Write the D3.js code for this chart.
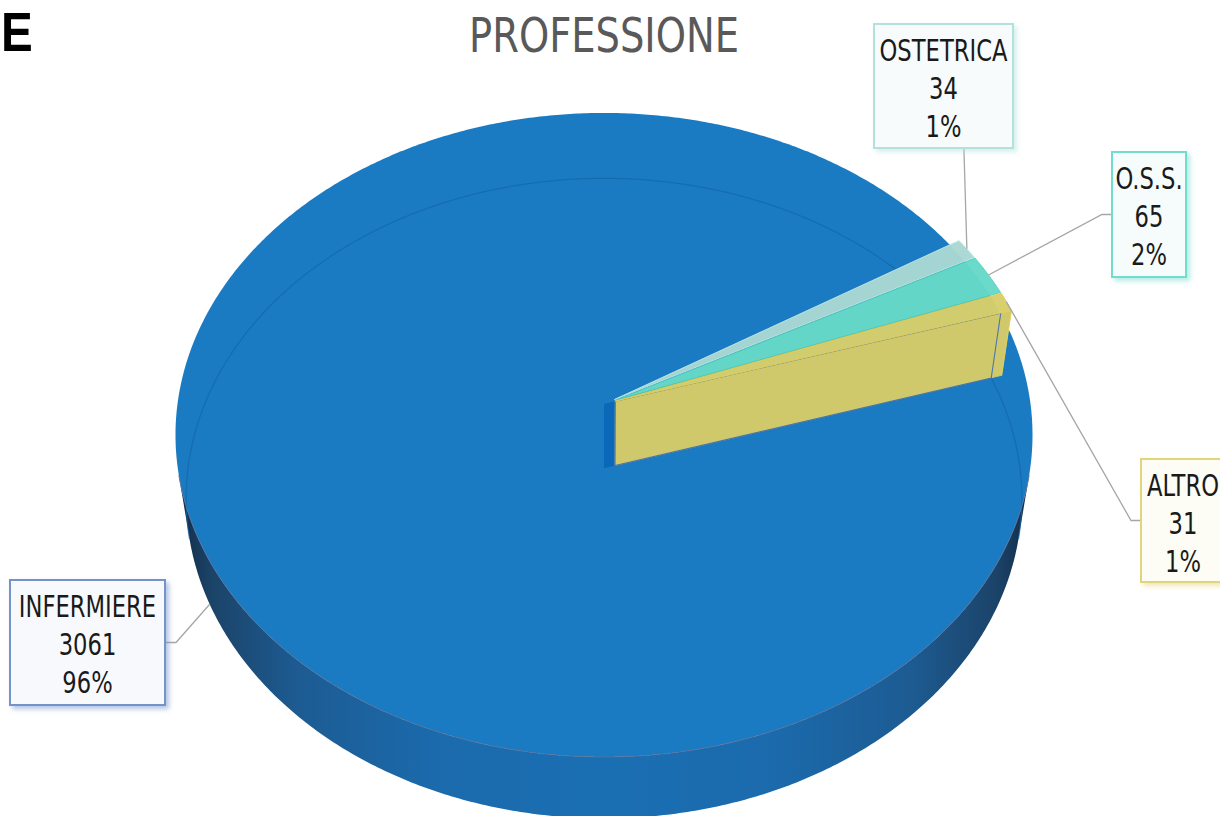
<!DOCTYPE html>
<html>
<head>
<meta charset="utf-8">
<script src="https://cdn.jsdelivr.net/npm/d3@7"></script>
<style>
  html, body { margin: 0; padding: 0; background: #ffffff; }
  svg { display: block; }
</style>
</head>
<body>
<svg id="chart" width="1220" height="816"></svg>
<script>
// ---- data ----
const categories = ["INFERMIERE", "OSTETRICA", "O.S.S.", "ALTRO"];
const values = [3061, 34, 65, 31];
const sliceColors = ["#1a7bc2", "#aad8d4", "#66d9c8", "#d8cf6c"];
const borderColors = ["#7393c9", "#b3e2dc", "#72dccd", "#e2d47c"];
const boxFills = ["#f8f9fc", "#f7fbfb", "#f6fcfb", "#fdfcf5"];
const chartTitle = "PROFESSIONE";
const panelLetter = "E";

// ---- layout ----
const W = 1220, H = 816;
const FONT = "'Liberation Sans Narrow', 'DejaVu Sans Condensed', 'Roboto', sans-serif";
const rad = d => d * Math.PI / 180;

// perspective camera looking down on a unit disc
const view = { cx: 604, cy: 404, focal: 2943, dist: 6.9, tilt: Math.asin(0.748), thick: 0.233, explode: 0.028, firstAngle: 73 };
const sT = Math.sin(view.tilt), cT = Math.cos(view.tilt);

function project(theta, r, z, off) {
  const X = r * Math.sin(theta) + (off ? off[0] : 0);
  const Y = -r * Math.cos(theta) + (off ? off[1] : 0);
  const d = view.dist - (Y * cT + z * sT);
  return [view.cx + view.focal * X / d, view.cy + view.focal * (Y * sT - z * cT) / d];
}
function arcPoints(a0, a1, r, z, off, step) {
  const n = Math.max(2, Math.ceil(Math.abs(a1 - a0) / (step || rad(0.5))));
  return d3.range(n + 1).map(i => project(a0 + (a1 - a0) * i / n, r, z, off));
}
const line = d3.line();
const closed = pts => line(pts) + "Z";

const svg = d3.select("#chart");
const defs = svg.append("defs");

// side shading: darker toward the silhouette
const sideGrad = defs.append("linearGradient").attr("id", "sideGrad")
  .attr("gradientUnits", "userSpaceOnUse").attr("x1", 177).attr("x2", 1031).attr("y1", 0).attr("y2", 0);
[[0, "#122c48"], [0.04, "#1b4368"], [0.14, "#1d5b92"], [0.3, "#1b6aac"], [0.5, "#1a6fb3"],
 [0.7, "#1b6aac"], [0.86, "#1d5b92"], [0.96, "#1b4368"], [1, "#122c48"]]
  .forEach(([o, c]) => sideGrad.append("stop").attr("offset", o).attr("stop-color", c));

borderColors.forEach((c, i) => {
  const f = defs.append("filter").attr("id", "shadow" + i)
    .attr("x", "-20%").attr("y", "-20%").attr("width", "150%").attr("height", "150%");
  f.append("feDropShadow").attr("dx", 3).attr("dy", 3).attr("stdDeviation", 2.5)
    .attr("flood-color", c).attr("flood-opacity", 0.55);
});

// ---- pie layout ----
const start = rad(view.firstAngle);
const arcs = d3.pie().sort(null).startAngle(start).endAngle(start + 2 * Math.PI)
  (values);
const total = d3.sum(values);
arcs.forEach((a, i) => {
  a.mid = (a.startAngle + a.endAngle) / 2;
  a.off = i === 0 ? null : [view.explode * Math.sin(a.mid), -view.explode * Math.cos(a.mid)];
});

const h = -view.thick;
const g = svg.append("g");

// visible part of the cylinder wall
const edge = Math.acos(-1 / (view.dist * cT));
const wallTop = arcPoints(edge, 2 * Math.PI - edge, 1, 0);
const wallBot = arcPoints(2 * Math.PI - edge, edge, 1, h);
g.append("path").attr("d", closed(wallTop.concat(wallBot))).attr("fill", "url(#sideGrad)");

// top face of the disc
g.append("path").attr("d", closed(arcPoints(0, 2 * Math.PI, 1, 0))).attr("fill", sliceColors[0]);

// hidden back rim seen through the surface
g.append("path").attr("d", line(arcPoints(2 * Math.PI - edge, 2 * Math.PI + edge, 1, h)))
  .attr("fill", "none").attr("stroke", "#1465a6").attr("stroke-width", 1.2).attr("opacity", 0.7);

// front rim line
g.append("path").attr("d", line(wallTop)).attr("fill", "none")
  .attr("stroke", "#56709a").attr("stroke-width", 1).attr("opacity", 0.85);

// small exploded slices
const altro = arcs[3];
// gap between the disc centre and the exploded block
g.append("path").attr("d", closed([
  project(0, 0, 0), project(0, 0, 0, altro.off), project(0, 0, h, altro.off), project(0, 0, h)
])).attr("fill", "#0b68b9");

// outer wall of ALTRO
g.append("path").attr("d", closed(
  arcPoints(altro.startAngle, altro.endAngle, 1, 0, altro.off)
    .concat(arcPoints(altro.endAngle, altro.startAngle, 1, h, altro.off))))
  .attr("fill", "#d6cb5f").attr("stroke", "#e0cf5a").attr("stroke-width", 0.8);

// radial face of ALTRO
g.append("path").attr("d", closed([
  project(0, 0, 0, altro.off), project(altro.endAngle, 1, 0, altro.off),
  project(altro.endAngle, 1, h, altro.off), project(0, 0, h, altro.off)
])).attr("fill", "#cfc96b").attr("stroke", "#e2d060").attr("stroke-width", 0.8);
g.append("path").attr("d", closed([
  project(0, 0, 0, altro.off), project(altro.endAngle, 1, 0),
  project(altro.endAngle, 1, h), project(0, 0, h, altro.off)
])).attr("fill", "none").attr("stroke", "#3e6db3").attr("stroke-width", 1.1).attr("opacity", 0.9);

// top faces of the small slices
const edgeColors = ["#1a7bc2", "#c5e9e5", "#4fd0bd", "#e3cf52"];
arcs.slice(1).forEach((a, k) => {
  const i = k + 1;
  g.append("path").attr("d", closed([project(0, 0, 0, a.off)]
      .concat(arcPoints(a.startAngle, a.endAngle, 1, 0, a.off, rad(0.2)))))
    .attr("fill", sliceColors[i]).attr("fill-opacity", 0.97)
    .attr("stroke", edgeColors[i]).attr("stroke-width", 0.9);
});

// ---- title and panel letter ----
svg.append("text").attr("transform", "translate(604,52) scale(0.89,1)")
  .attr("text-anchor", "middle").attr("font-family", FONT).attr("font-size", 48)
  .attr("fill", "#595959").text(chartTitle);
svg.append("text").attr("transform", "translate(1,51) scale(0.85,1)")
  .attr("font-family", "'Liberation Sans', 'DejaVu Sans', sans-serif").attr("font-weight", 900)
  .attr("font-size", 56).attr("fill", "#000").text(panelLetter);

// ---- data callouts ----
const boxes = [
  { x: 10, y: 580, w: 155, h: 125, side: "right" },
  { x: 874, y: 24, w: 139, h: 124, side: "bottom" },
  { x: 1112, y: 152, w: 74, h: 125, side: "left" },
  { x: 1141, y: 459, w: 92, h: 123, side: "left" }
];
const anchors = arcs.map((a, i) => i === 0 ? project(a.mid, 1, h) : project(a.mid, 1, 0, a.off));

const labels = svg.append("g");
arcs.forEach((a, i) => {
  const b = boxes[i], p = anchors[i];
  let pts;
  if (b.side === "right") pts = [p, [b.x + b.w + 11, b.y + b.h / 2], [b.x + b.w, b.y + b.h / 2]];
  else if (b.side === "left") pts = [p, [b.x - 10, b.y + b.h / 2], [b.x, b.y + b.h / 2]];
  else pts = [p, [p[0] - 3, b.y + b.h]];
  labels.append("path").attr("d", line(pts)).attr("fill", "none")
    .attr("stroke", "#a6a6a6").attr("stroke-width", 1.3);

  labels.append("rect").attr("x", b.x).attr("y", b.y).attr("width", b.w).attr("height", b.h)
    .attr("fill", boxFills[i]).attr("stroke", borderColors[i]).attr("stroke-width", 2)
    .attr("filter", `url(#shadow${i})`);

  const pct = Math.round(values[i] / total * 100) + "%";
  const cx = b.x + (i === 3 ? 42 : b.w / 2);
  [categories[i], String(values[i]), pct].forEach((t, j) => {
    labels.append("text")
      .attr("transform", `translate(${cx},${b.y + 37 + j * 38}) scale(0.84,1)`)
      .attr("text-anchor", "middle").attr("font-family", FONT).attr("font-size", 30)
      .attr("fill", "#1a1a1a").text(t);
  });
});
</script>
</body>
</html>
